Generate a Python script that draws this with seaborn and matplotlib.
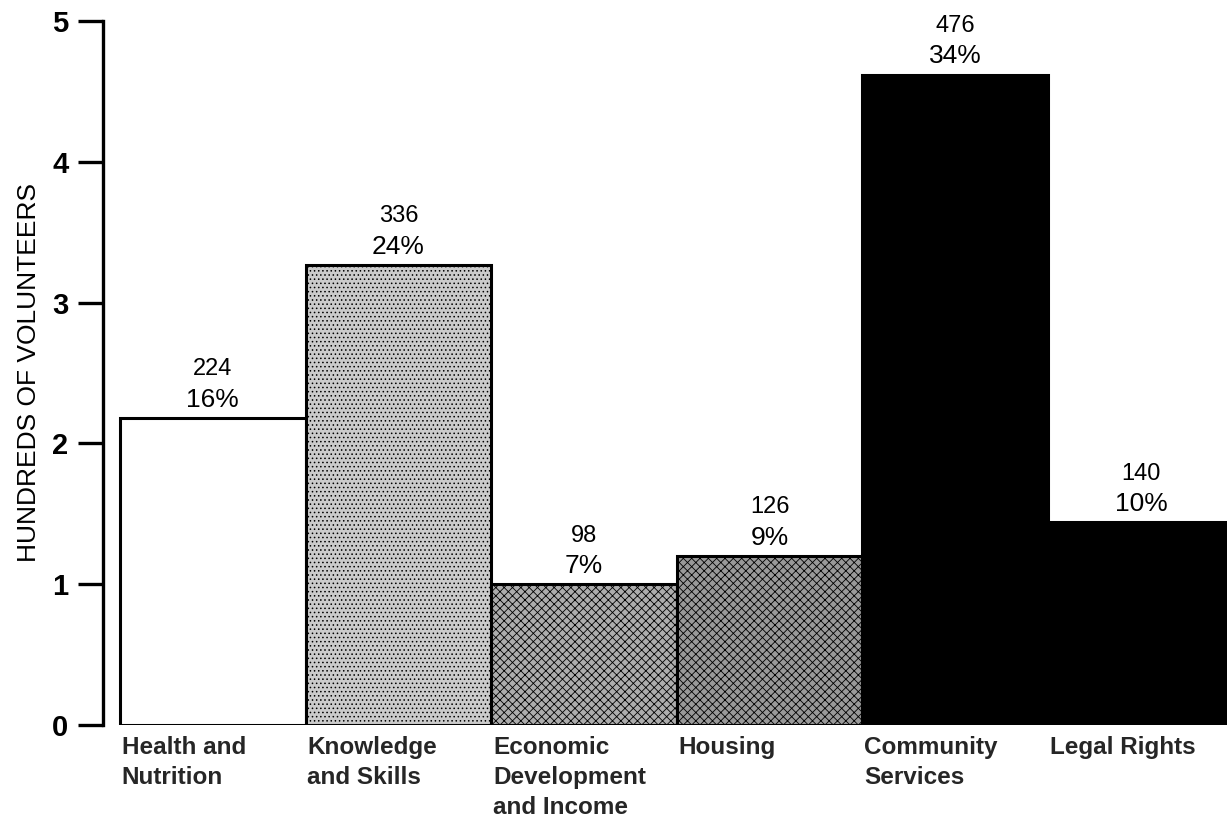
import matplotlib
matplotlib.use("Agg")
import matplotlib.pyplot as plt
import seaborn as sns
import pandas as pd
import numpy as np

categories = ["Health and\nNutrition", "Knowledge\nand Skills", "Economic\nDevelopment\nand Income",
              "Housing", "Community\nServices", "Legal Rights"]
counts = [224, 336, 98, 126, 476, 140]
percents = ["16%", "24%", "7%", "9%", "34%", "10%"]
heights = [2.18, 3.27, 1.00, 1.20, 4.62, 1.44]   # bar heights as drawn (hundreds)
fills = ["#ffffff", "#cbcbcb", "#adadad", "#9a9a9a", "#000000", "#000000"]
hatches = [None, "....", "xxxx", "xxxx", None, None]
yticks = [0, 1, 2, 3, 4, 5]

sns.set_theme(style="white")
plt.rcParams['font.family'] = ['Liberation Sans', 'DejaVu Sans']
plt.rcParams['hatch.linewidth'] = 0.6
plt.rcParams['hatch.color'] = '#3a3a3a'

df = pd.DataFrame({"cat": categories, "h": heights})

fig = plt.figure(figsize=(12.27, 8.23), dpi=100)
ax = fig.add_axes([103/1227, 98/823, 1 - 103/1227, (725-21)/823])

sns.barplot(data=df, x="cat", y="h", hue="cat", palette=fills, width=1.0,
            edgecolor="black", linewidth=2.2, legend=False, ax=ax, saturation=1)

for p, hc in zip(ax.patches, hatches):
    if hc:
        p.set_hatch(hc)

ax.set_xlim(-0.5916, 5.464)
ax.set_ylim(0, 5)

for i, (c, pct, h) in enumerate(zip(counts, percents, heights)):
    ax.annotate(str(c), (i, h), xytext=(0, 35), textcoords="offset points",
                ha="center", va="center", fontsize=17, color="black", annotation_clip=False)
    ax.annotate(pct, (i, h), xytext=(0, 13), textcoords="offset points",
                ha="center", va="center", fontsize=19, color="black", annotation_clip=False)

ax.set_xticks(np.arange(len(categories)) - 0.5 + 0.01)
ax.set_xticklabels(categories, ha="left", va="top", fontsize=17.5, fontweight="bold", linespacing=1.38)
ax.tick_params(axis="x", length=0, pad=8)

ax.set_yticks(yticks)
ax.set_yticklabels([str(t) for t in yticks], fontsize=21, fontweight="bold")
ax.tick_params(axis="y", direction="out", length=18, width=2.4, pad=7, left=True, colors="black")
ax.set_ylabel("HUNDREDS OF VOLUNTEERS", fontsize=19, labelpad=8, color="black")
ax.set_xlabel("")

for s in ["top", "right", "bottom"]:
    ax.spines[s].set_visible(False)
ax.spines["left"].set_linewidth(2.4)
ax.spines["left"].set_color("black")
ax.spines["left"].set_bounds(0, 5)

fig.savefig("out.png", dpi=100, facecolor="white")
